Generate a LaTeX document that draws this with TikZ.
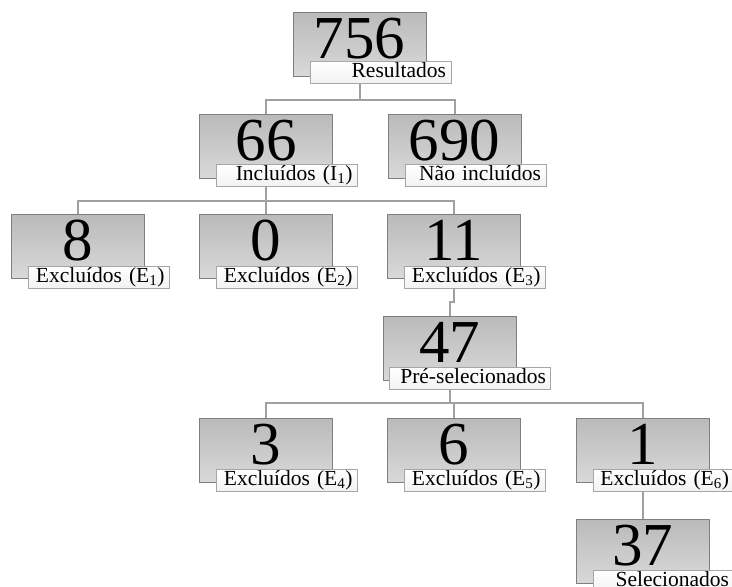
\documentclass[tikz,border=0pt]{standalone}
\usepackage{fontspec}
\setmainfont{Liberation Serif}
\definecolor{boxline}{HTML}{7F7F7F}
\definecolor{lblline}{HTML}{A6A6A6}
\definecolor{conn}{HTML}{A0A0A0}
\begin{document}
\begin{tikzpicture}[x=1pt,y=-1pt,
  numbox/.style={draw=boxline, line width=0.9pt, top color=black!27, bottom color=black!15,
    minimum width=133pt, minimum height=64pt, inner sep=0pt, anchor=center,
    font=\fontsize{61}{61}\selectfont, text height=42pt, text depth=14pt},
  lblbox/.style={draw=lblline, line width=0.8pt, top color=white, bottom color=black!5,
    minimum width=141pt, minimum height=22pt, text width=131pt, align=right,
    inner xsep=5pt, inner ysep=0pt, font=\fontsize{21.5}{22}\selectfont,
    text height=15pt, text depth=5pt},
  link/.style={draw=conn, line width=2pt}]
\useasboundingbox (0,0) rectangle (732,587);
% boxes
\node[numbox] (b756) at (359.5,44) {756};
\node[numbox] (b66) at (266,146) {66};
\node[numbox] (b690) at (454.5,146) {690};
\node[numbox] (b8) at (78,246.5) {8};
\node[numbox] (b0) at (266,246.5) {0};
\node[numbox] (b11) at (454,246.5) {11};
\node[numbox] (b47) at (449.5,348.5) {47};
\node[numbox] (b3) at (266,450) {3};
\node[numbox] (b6) at (454,450) {6};
\node[numbox] (b1) at (642.5,450) {1};
\node[numbox] (b37) at (642.5,551) {37};
% connectors
\coordinate (h1) at (359.5,100);
\coordinate (h2) at (266,201);
\coordinate (h4) at (449.5,403);
\draw[link] (b756.south) -- (h1);
\draw[link] (b66.north) |- (h1) -| (b690.north);
\draw[link] (b66.south) -- (h2);
\draw[link] (b8.north) |- (h2) -| (b11.north);
\draw[link] (b0.north) -- (h2);
\draw[link] (b11.south) -- ++(0,23) -| (b47.north);
\draw[link] (b47.south) -- (h4);
\draw[link] (b3.north) |- (h4) -| (b1.north);
\draw[link] (b6.north) -- (b6.north |- h4);
\draw[link] (b1.south) -- (b37.north);
% labels
\node[lblbox] (l756) at ([xshift=21pt,yshift=-28.5pt]b756.center) {Resultados};
\node[lblbox] (l66) at ([xshift=21pt,yshift=-29pt]b66.center) {Incluídos (I\textsubscript{1})};
\node[lblbox] (l690) at ([xshift=21pt,yshift=-29pt]b690.center) {Não incluídos};
\node[lblbox] (l8) at ([xshift=21pt,yshift=-30.5pt]b8.center) {Excluídos (E\textsubscript{1})};
\node[lblbox] (l0) at ([xshift=21pt,yshift=-30.5pt]b0.center) {Excluídos (E\textsubscript{2})};
\node[lblbox] (l11) at ([xshift=21pt,yshift=-30.5pt]b11.center) {Excluídos (E\textsubscript{3})};
\node[lblbox, minimum width=161pt, text width=153pt, inner xsep=4pt] (l47) at ([xshift=20pt,yshift=-29.5pt]b47.center) {Pré-selecionados};
\node[lblbox] (l3) at ([xshift=21pt,yshift=-30pt]b3.center) {Excluídos (E\textsubscript{4})};
\node[lblbox] (l6) at ([xshift=21pt,yshift=-30pt]b6.center) {Excluídos (E\textsubscript{5})};
\node[lblbox] (l1) at ([xshift=21pt,yshift=-30pt]b1.center) {Excluídos (E\textsubscript{6})};
\node[lblbox] (l37) at ([xshift=21pt,yshift=-30pt]b37.center) {Selecionados};
\end{tikzpicture}
\end{document}
